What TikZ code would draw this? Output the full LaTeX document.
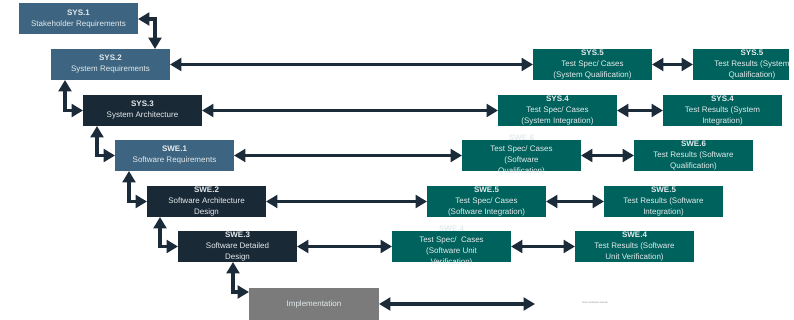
\documentclass[tikz,border=0pt]{standalone}
\usepackage{fontspec}
\setmainfont{Liberation Sans}
\usetikzlibrary{arrows.meta,calc}
\definecolor{steel}{HTML}{3D6480}
\definecolor{navy}{HTML}{1A2936}
\definecolor{tealbox}{HTML}{00625C}
\definecolor{implgray}{HTML}{7B7B7B}
\definecolor{linkcol}{HTML}{1C2B3A}
\definecolor{boxtext}{HTML}{E4EBEE}
\tikzset{
  box/.style={rectangle, inner sep=0pt, outer sep=0pt, minimum width=89.25pt, minimum height=23.25pt},
  reqbox/.style={box, fill=steel},
  archbox/.style={box, fill=navy},
  specbox/.style={box, fill=tealbox},
  implbox/.style={box, fill=implgray, minimum width=97.5pt, minimum height=24pt},
  txt/.style={text=boxtext, align=center, inner sep=0pt, font=\fontsize{6}{8.25}\selectfont},
  conn/.style={draw=linkcol, line width=2.5pt,
    {Triangle[length=8.5pt,width=9.5pt]}-{Triangle[length=8.5pt,width=9.5pt]}},
}
\begin{document}
\begin{tikzpicture}[x=0.75pt,y=-0.75pt]
\useasboundingbox (0,0) rectangle (794,320);
\fill[white] (0,0) rectangle (794,320);

% left leg of the V
\node[reqbox, label={[txt]center:{\textbf{SYS.1}\\Stakeholder Requirements}}] (sys1) at (78.5,19) {};
\node[reqbox, label={[txt]center:{\textbf{SYS.2}\\System Requirements}}] (sys2) at (110.5,64.5) {};
\node[archbox, label={[txt]center:{\textbf{SYS.3}\\System Architecture}}] (sys3) at (142.5,110.5) {};
\node[reqbox, label={[txt]center:{\textbf{SWE.1}\\Software Requirements}}] (swe1) at (174.5,155.5) {};
\node[archbox, label={[txt]center:{\textbf{SWE.2}\\Software Architecture\\Design}}] (swe2) at (206.5,201.5) {};
\node[archbox, label={[txt]center:{\textbf{SWE.3}\\Software Detailed\\Design}}] (swe3) at (237.5,246.5) {};
\node[implbox, label={[txt]center:{Implementation}}] (impl) at (314,304) {};

% test specifications
\node[specbox, label={[txt]center:{\textbf{SYS.5}\\Test Spec/ Cases\\(System Qualification)}}] (sys5s) at (592.5,64.5) {};
\node[specbox, label={[txt]center:{\textbf{SYS.4}\\Test Spec/ Cases\\(System Integration)}}] (sys4s) at (557.5,110.5) {};
\node[specbox, label={[txt]center:{\textbf{SWE.6}\\Test Spec/ Cases\\(Software\\Qualification)}}] (swe6s) at (521.5,155.5) {};
\node[specbox, label={[txt]center:{\textbf{SWE.5}\\Test Spec/ Cases\\(Software Integration)}}] (swe5s) at (486.5,201.5) {};
\node[specbox, label={[txt]center:{\textbf{SWE.4}\\Test Spec/~ Cases\\(Software Unit\\Verification)}}] (swe4s) at (451.5,246.5) {};

% test results
\node[specbox, minimum width=72pt, label={[txt, xshift=8.25pt]center:{\textbf{SYS.5}\\Test Results (System\\Qualification)}}] (sys5r) at (741,64.5) {};
\node[specbox, label={[txt]center:{\textbf{SYS.4}\\Test Results (System\\Integration)}}] (sys4r) at (722.5,110.5) {};
\node[specbox, label={[txt]center:{\textbf{SWE.6}\\Test Results (Software\\Qualification)}}] (swe6r) at (693.5,155.5) {};
\node[specbox, label={[txt]center:{\textbf{SWE.5}\\Test Results (Software\\Integration)}}] (swe5r) at (663.5,201.5) {};
\node[specbox, label={[txt]center:{\textbf{SWE.4}\\Test Results (Software\\Unit Verification)}}] (swe4r) at (634.5,246.5) {};

\coordinate (implend) at (535,304);
\node[text=gray, inner sep=0pt, font=\fontsize{1.7}{2}\selectfont] (statres) at (595,303) {Static Verification Results};

% stepwise links down the left leg
\draw[conn] (sys1.east) -| ($(sys2.north west)+(104,0)$);
\draw[conn] ($(sys2.south west)+(14,0)$) |- (sys3.west);
\draw[conn] ($(sys3.south west)+(14,0)$) |- (swe1.west);
\draw[conn] ($(swe1.south west)+(14,0)$) |- (swe2.west);
\draw[conn] ($(swe2.south west)+(13,0)$) |- (swe3.west);
\draw[conn] ($(swe3.south west)+(55,0)$) |- ($(impl.north west)+(0,4)$);

% traceability to test specifications
\draw[conn] (sys2.east) -- (sys5s.west);
\draw[conn] (sys3.east) -- (sys4s.west);
\draw[conn] (swe1.east) -- (swe6s.west);
\draw[conn] (swe2.east) -- (swe5s.west);
\draw[conn] (swe3.east) -- (swe4s.west);
\draw[conn] (impl.east) -- (implend);

% specifications to results
\draw[conn] (sys5s.east) -- (sys5r.west);
\draw[conn] (sys4s.east) -- (sys4r.west);
\draw[conn] (swe6s.east) -- (swe6r.west);
\draw[conn] (swe5s.east) -- (swe5r.west);
\draw[conn] (swe4s.east) -- (swe4r.west);
\end{tikzpicture}
\end{document}
